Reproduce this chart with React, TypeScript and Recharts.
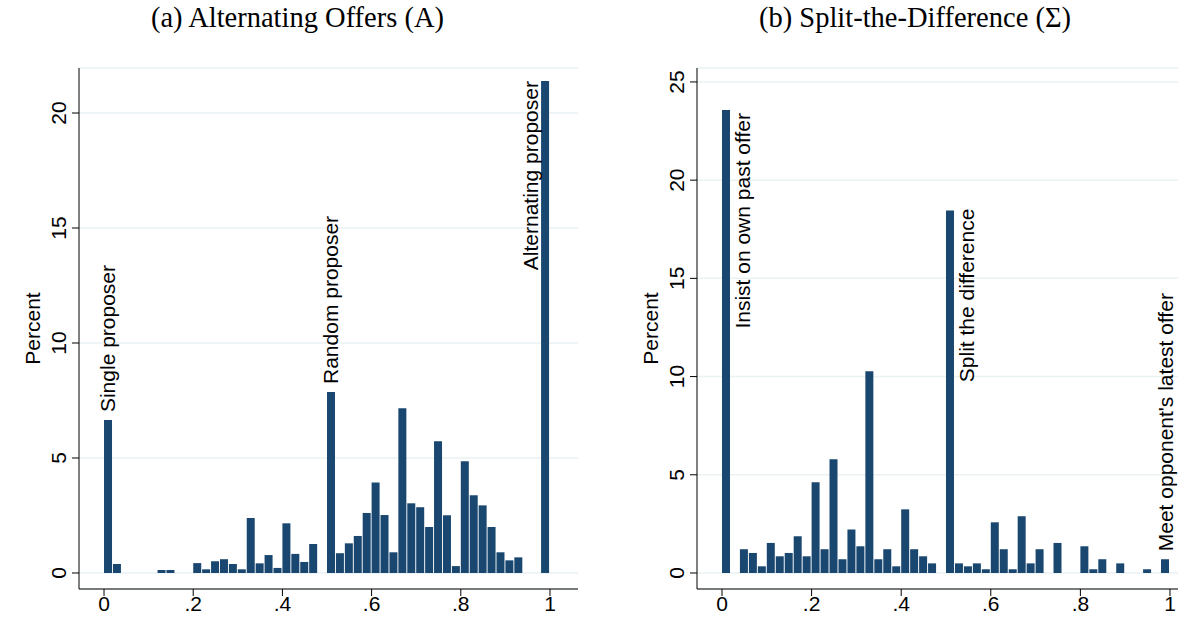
import { Bar, BarChart, CartesianGrid, ReferenceDot, XAxis, YAxis } from "recharts";

// bin centres of the 0.02-wide histogram bins
const binCenters = [
  0.01, 0.03, 0.05, 0.07, 0.09, 0.11, 0.13, 0.15, 0.17, 0.19,
  0.21, 0.23, 0.25, 0.27, 0.29, 0.31, 0.33, 0.35, 0.37, 0.39,
  0.41, 0.43, 0.45, 0.47, 0.49, 0.51, 0.53, 0.55, 0.57, 0.59,
  0.61, 0.63, 0.65, 0.67, 0.69, 0.71, 0.73, 0.75, 0.77, 0.79,
  0.81, 0.83, 0.85, 0.87, 0.89, 0.91, 0.93, 0.95, 0.97, 0.99,
];

// (a) Alternating Offers, percent per bin
const percentA = [
  6.65, 0.39, 0, 0, 0, 0, 0.13, 0.13, 0, 0,
  0.43, 0.16, 0.51, 0.6, 0.39, 0.16, 2.39, 0.42, 0.78, 0.22,
  2.16, 0.83, 0.48, 1.26, 0, 7.87, 0.86, 1.29, 1.61, 2.61,
  3.94, 2.52, 0.9, 7.16, 3.03, 2.86, 2.0, 5.73, 2.51, 0.3,
  4.86, 3.38, 2.94, 2.0, 0.9, 0.55, 0.68, 0, 0, 21.39,
];

// (b) Split-the-Difference, percent per bin
const percentB = [
  23.57, 0, 1.21, 1.02, 0.34, 1.53, 0.85, 1.02, 1.87, 0.85,
  4.62, 1.21, 5.79, 0.7, 2.22, 1.36, 10.27, 0.7, 1.21, 0.34,
  3.24, 1.21, 0.85, 0.49, 0, 18.45, 0.49, 0.34, 0.49, 0.19,
  2.58, 1.21, 0.19, 2.89, 0.49, 1.21, 0, 1.53, 0, 0,
  1.36, 0.19, 0.7, 0, 0.49, 0, 0, 0.19, 0, 0.7,
];

const xTicks = [0, 0.2, 0.4, 0.6, 0.8, 1];
const xTickLabels = ["0", ".2", ".4", ".6", ".8", "1"];
const yTicksA = [0, 5, 10, 15, 20];
const yTicksB = [0, 5, 10, 15, 20, 25];

const titleA = "(a) Alternating Offers (A)";
const titleB = "(b) Split-the-Difference (\u03a3)";
const yLabel = "Percent";

const notesA = ["Single proposer", "Random proposer", "Alternating proposer"];
const notesAX = [0.01, 0.51, 0.99];
const notesAY = [6.65, 7.87, 21.39];

const notesB = ["Insist on own past offer", "Split the difference", "Meet opponent's latest offer"];
const notesBX = [0.01, 0.51, 0.99];
const notesBY = [23.57, 18.45, 0.7];

const SANS = '"Liberation Sans", Arial, Helvetica, sans-serif';
const SERIF = '"Liberation Serif", "Times New Roman", serif';
const NAVY = "#1a476f";
const FONT = 21;

type NoteStyle = { anchor: "start" | "end"; dx: number; dy: number };

const noteStylesA: NoteStyle[] = [
  { anchor: "start", dx: 7, dy: -8 },
  { anchor: "start", dx: 7, dy: -8 },
  { anchor: "end", dx: -8, dy: 0 },
];
const noteStylesB: NoteStyle[] = [
  { anchor: "end", dx: 24, dy: 3 },
  { anchor: "end", dx: 24, dy: -2 },
  { anchor: "start", dx: 8, dy: -8 },
];

function YTick({ x, y, payload }: any) {
  return (
    <text
      x={x}
      y={y}
      transform={`rotate(-90 ${x} ${y})`}
      textAnchor="middle"
      fontFamily={SANS}
      fontSize={FONT}
      fill="#000"
    >
      {payload.value}
    </text>
  );
}

function XTick({ x, y, payload }: any) {
  const i = xTicks.indexOf(payload.value);
  return (
    <text x={x} y={y + 15} textAnchor="middle" fontFamily={SANS} fontSize={FONT} fill="#000">
      {i >= 0 ? xTickLabels[i] : payload.value}
    </text>
  );
}

function PercentLabel(props: any) {
  const vb = props.viewBox ?? { x: 0, y: 68, width: 79, height: 521 };
  const x = vb.x + vb.width - 39;
  const y = vb.y + vb.height / 2;
  return (
    <text
      x={x}
      y={y}
      transform={`rotate(-90 ${x} ${y})`}
      textAnchor="middle"
      fontFamily={SANS}
      fontSize={FONT}
      fill="#000"
    >
      {yLabel}
    </text>
  );
}

type PanelProps = {
  values: number[];
  yTicks: number[];
  yDomain: [number, number];
  xDomain: [number, number];
  yAxisWidth: number;
  marginRight: number;
  notes: string[];
  notesX: number[];
  notesY: number[];
  noteStyles: NoteStyle[];
};

function Panel({
  values,
  yTicks,
  yDomain,
  xDomain,
  yAxisWidth,
  marginRight,
  notes,
  notesX,
  notesY,
  noteStyles,
}: PanelProps) {
  const data = binCenters.map((x, i) => ({ x, v: values[i] }));
  return (
    <BarChart
      width={594}
      height={642}
      data={data}
      margin={{ top: 68, right: marginRight, bottom: 0, left: 0 }}
      barCategoryGap={0}
    >
      <CartesianGrid vertical={false} stroke="#eaf2f3" strokeWidth={1.5} />
      <XAxis
        dataKey="x"
        type="number"
        domain={xDomain}
        allowDataOverflow
        ticks={xTicks}
        interval={0}
        height={53}
        tickSize={7}
        tickMargin={0}
        tick={<XTick />}
        axisLine={{ stroke: "#000" }}
        tickLine={{ stroke: "#000" }}
      />
      <YAxis
        type="number"
        domain={yDomain}
        allowDataOverflow
        ticks={yTicks}
        interval={0}
        width={yAxisWidth}
        tickSize={7}
        tickMargin={6}
        tick={<YTick />}
        axisLine={{ stroke: "#000" }}
        tickLine={{ stroke: "#000" }}
        label={{ value: yLabel, content: PercentLabel }}
      />
      <Bar dataKey="v" fill={NAVY} barSize={8} isAnimationActive={false} />
      {notes.map((text, i) => {
        const s = noteStyles[i];
        return (
          <ReferenceDot
            key={text}
            x={notesX[i]}
            y={notesY[i]}
            r={0}
            ifOverflow="visible"
            shape={(p: any) => {
              const tx = p.cx + s.dx;
              const ty = p.cy + s.dy;
              return (
                <text
                  x={tx}
                  y={ty}
                  transform={`rotate(-90 ${tx} ${ty})`}
                  textAnchor={s.anchor}
                  fontFamily={SANS}
                  fontSize={FONT}
                  fill="#000"
                >
                  {text}
                </text>
              );
            }}
          />
        );
      })}
    </BarChart>
  );
}

export default function App() {
  return (
    <div
      style={{
        position: "absolute",
        left: 0,
        top: 0,
        width: 1188,
        height: 642,
        background: "#fff",
        overflow: "hidden",
      }}
    >
      <div style={{ position: "absolute", left: 0, top: 0 }}>
        <Panel
          values={percentA}
          yTicks={yTicksA}
          yDomain={[-0.696, 21.957]}
          xDomain={[-0.0561, 1.0628]}
          yAxisWidth={79}
          marginRight={16}
          notes={notesA}
          notesX={notesAX}
          notesY={notesAY}
          noteStyles={noteStylesA}
        />
      </div>
      <div style={{ position: "absolute", left: 594, top: 0 }}>
        <Panel
          values={percentB}
          yTicks={yTicksB}
          yDomain={[-0.815, 25.71]}
          xDomain={[-0.0558, 1.0179]}
          yAxisWidth={103}
          marginRight={10}
          notes={notesB}
          notesX={notesBX}
          notesY={notesBY}
          noteStyles={noteStylesB}
        />
      </div>
      <svg
        width={1188}
        height={642}
        style={{ position: "absolute", left: 0, top: 0, pointerEvents: "none" }}
      >
        <text x={297.5} y={27} textAnchor="middle" fontFamily={SERIF} fontSize={28.5} fill="#000">
          {titleA}
        </text>
        <text x={915} y={27} textAnchor="middle" fontFamily={SERIF} fontSize={28.5} fill="#000">
          {titleB}
        </text>
      </svg>
    </div>
  );
}
